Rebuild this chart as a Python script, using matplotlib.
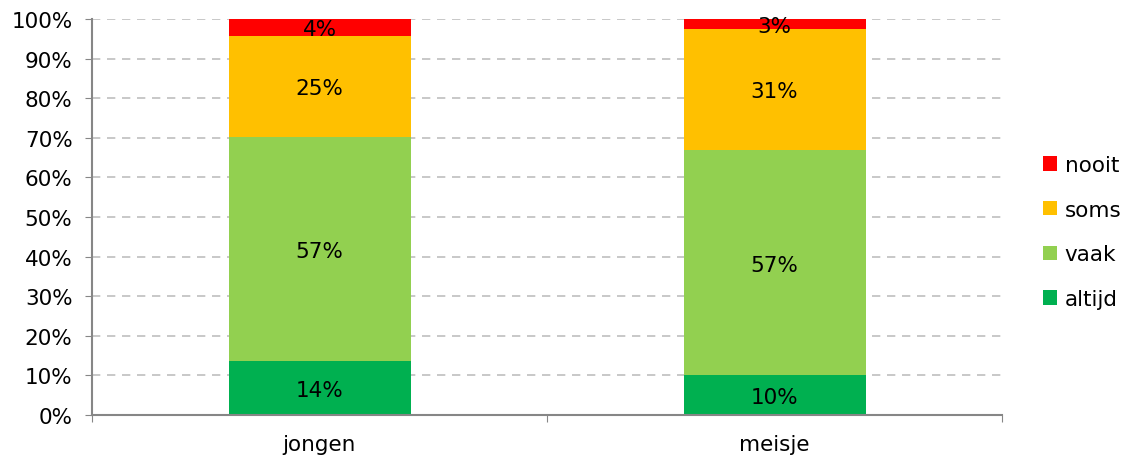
import numpy as np
import matplotlib.pyplot as plt

categories = ['jongen', 'meisje']
series = ['altijd', 'vaak', 'soms', 'nooit']
altijd = [13.6, 10.0]
vaak = [56.6, 56.8]
soms = [25.4, 30.6]
nooit = [4.4, 2.6]
colors = ['#00b050', '#92d050', '#ffc000', '#ff0000']

plt.rcParams['font.family'] = ['DejaVu Sans']
fig = plt.figure(figsize=(11.33, 4.56), dpi=100)
ax = fig.add_axes([92/1133, 40/456, 910/1133, 396/456])

fs = 15.5
x = np.arange(len(categories))
bottom = np.zeros(len(categories))
handles = []
for name, vals, c in zip(series, [altijd, vaak, soms, nooit], colors):
    vals = np.array(vals)
    b = ax.bar(x, vals, 0.4, bottom=bottom, color=c, label=name, zorder=2)
    handles.append(b)
    for xi, v, b0 in zip(x, vals, bottom):
        ax.text(xi, b0 + v / 2 - 0.4, '%d%%' % round(v), ha='center', va='center',
                fontsize=fs, zorder=3)
    bottom += vals

ax.set_xlim(-0.5, 1.5)
ax.set_ylim(0, 100)
ax.set_yticks(np.arange(0, 101, 10))
ax.set_yticklabels(['%d%%' % v for v in range(0, 101, 10)])
ax.set_xticks([-0.5, 0.5, 1.5], minor=False)
ax.set_xticklabels(['', '', ''])
ax.set_xticks(x, minor=True)
ax.set_xticklabels(categories, minor=True)
ax.tick_params(axis='x', which='minor', length=0, pad=14, labelsize=fs)
ax.tick_params(axis='x', which='major', length=5, color='#868686')
ax.tick_params(axis='y', length=5, color='#868686', labelsize=fs, pad=9)
ax.yaxis.grid(True, color='#bfbfbf', linestyle=(0, (5, 4)), linewidth=1.2, zorder=0)
ax.set_axisbelow(True)
for s in ['top', 'right']:
    ax.spines[s].set_visible(False)
for s in ['left', 'bottom']:
    ax.spines[s].set_color('#868686')
    ax.spines[s].set_linewidth(1.5)

leg = ax.legend(handles[::-1], series[::-1], loc='center left',
                bbox_to_anchor=(1.024, 0.462), frameon=False, fontsize=fs,
                handlelength=0.65, handleheight=0.65, handletextpad=0.35,
                labelspacing=1.15)

fig.savefig('out.png', dpi=100)
